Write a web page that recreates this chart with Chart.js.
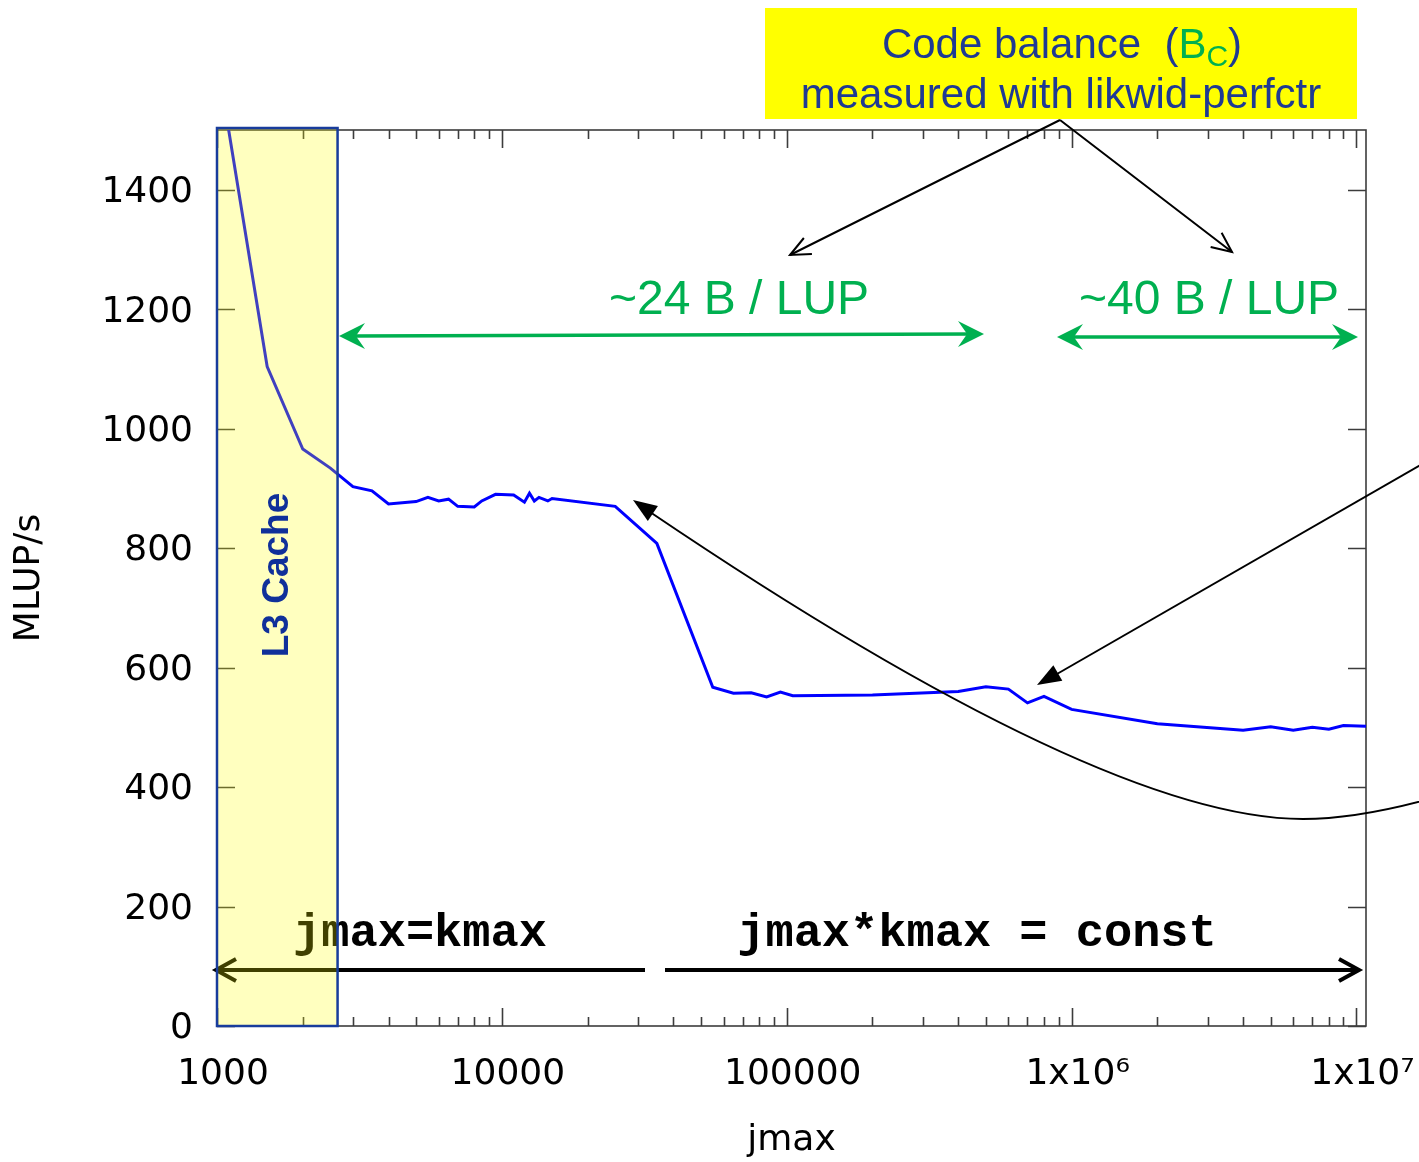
<!DOCTYPE html>
<html>
<head>
<meta charset="utf-8">
<script src="https://cdn.jsdelivr.net/npm/chart.js@4/dist/chart.umd.min.js"></script>
<style>
  html, body { margin: 0; padding: 0; background: #ffffff; }
  #wrap { width: 1419px; height: 1162px; position: relative; }
</style>
</head>
<body>
<div id="wrap"><canvas id="c" width="1419" height="1162"></canvas></div>
<script>
// Stencil performance vs. inner dimension jmax
const jmax = [1000, 1500, 2000, 2500, 3000, 3500, 4000, 5000, 5500, 6000, 6500, 7000,
  8000, 8500, 9500, 11000, 12000, 12500, 13000, 13500, 14500, 15000, 25000, 35000,
  55000, 65000, 75000, 85000, 95000, 105000, 200000, 400000, 500000, 600000, 700000,
  800000, 1000000, 2000000, 4000000, 5000000, 6000000, 7000000, 8000000, 9000000, 10800000];
const mlups = [1620, 1104, 966, 934, 903, 896, 874, 878, 885, 879, 882, 870,
  869, 879, 890, 889, 877, 892, 879, 885, 879, 883, 870, 808,
  567, 557, 558, 551, 559, 553, 554, 560, 568, 564, 541,
  552, 530, 506, 495, 501, 495, 500, 497, 503, 502];

const xTickValues = [1000, 10000, 100000, 1000000, 10000000];
const xTickLabels = ['1000', '10000', '100000', '1x10⁶', '1x10⁷'];
const yTickValues = [0, 200, 400, 600, 800, 1000, 1200, 1400];
const xRange = [1000, 10800000];
const yRange = [0, 1500];
const l3CacheLimit = 2650;   // jmax where the working set leaves the L3 cache

const AXIS_COLOR = '#3c3c3c';
const GREEN = '#00b050';
const NAVY = '#1f3a93';

function arrowHead(ctx, x, y, dx, dy, len, half, mode) {
  const a = Math.atan2(dy, dx);
  const bx = x - len * Math.cos(a), by = y - len * Math.sin(a);
  const px = -Math.sin(a) * half, py = Math.cos(a) * half;
  ctx.beginPath();
  if (mode === 'open') {
    ctx.moveTo(bx + px, by + py);
    ctx.lineTo(x, y);
    ctx.lineTo(bx - px, by - py);
    ctx.stroke();
  } else if (mode === 'notch') {
    const nx = x - len * 0.65 * Math.cos(a), ny = y - len * 0.65 * Math.sin(a);
    ctx.moveTo(x, y);
    ctx.lineTo(bx + px, by + py);
    ctx.lineTo(nx, ny);
    ctx.lineTo(bx - px, by - py);
    ctx.closePath();
    ctx.fill();
  } else {
    ctx.moveTo(x, y);
    ctx.lineTo(bx + px, by + py);
    ctx.lineTo(bx - px, by - py);
    ctx.closePath();
    ctx.fill();
  }
}

// Plot frame with gnuplot-style inward ticks on all four sides
const framePlugin = {
  id: 'frame',
  beforeDatasetsDraw(chart) {
    const { ctx, chartArea: a, scales: { x, y } } = chart;
    ctx.save();
    ctx.strokeStyle = AXIS_COLOR;
    ctx.lineWidth = 1.6;
    ctx.strokeRect(a.left, a.top, a.right - a.left, a.bottom - a.top);
    ctx.beginPath();
    for (let d = 1000; d <= xRange[1]; d *= 10) {
      for (let m = 1; m <= 9; m++) {
        const v = d * m;
        if (v < xRange[0] || v > xRange[1]) continue;
        const px = Math.round(x.getPixelForValue(v)) + 0.5;
        const len = m === 1 ? 18 : 9;
        ctx.moveTo(px, a.bottom); ctx.lineTo(px, a.bottom - len);
        ctx.moveTo(px, a.top); ctx.lineTo(px, a.top + len);
      }
    }
    yTickValues.forEach(v => {
      const py = Math.round(y.getPixelForValue(v)) + 0.5;
      ctx.moveTo(a.left, py); ctx.lineTo(a.left + 18, py);
      ctx.moveTo(a.right, py); ctx.lineTo(a.right - 18, py);
    });
    ctx.stroke();
    ctx.restore();
  }
};

// Callouts, ranges and the L3 cache band
const notesPlugin = {
  id: 'notes',
  afterDraw(chart) {
    const { ctx, chartArea: a, scales: { x } } = chart;
    ctx.save();

    // Code-balance ranges
    ctx.fillStyle = GREEN;
    ctx.strokeStyle = GREEN;
    ctx.font = '48px "Liberation Sans", Arial, sans-serif';
    ctx.textAlign = 'center';
    ctx.textBaseline = 'alphabetic';
    ctx.fillText('~24 B / LUP', 739, 314);
    ctx.fillText('~40 B / LUP', 1209, 314);
    ctx.lineWidth = 3.5;
    ctx.beginPath(); ctx.moveTo(352, 336); ctx.lineTo(972, 334); ctx.stroke();
    arrowHead(ctx, 339, 336, -1, 0, 26, 13, 'notch');
    arrowHead(ctx, 984, 334, 1, 0, 26, 13, 'notch');
    ctx.beginPath(); ctx.moveTo(1070, 337); ctx.lineTo(1345, 337); ctx.stroke();
    arrowHead(ctx, 1057, 337, -1, 0, 26, 13, 'notch');
    arrowHead(ctx, 1358, 337, 1, 0, 26, 13, 'notch');

    // Pointers from the label box
    ctx.strokeStyle = '#000';
    ctx.lineWidth = 2;
    ctx.beginPath();
    ctx.moveTo(1060, 120); ctx.lineTo(790, 255);
    ctx.moveTo(1060, 120); ctx.lineTo(1232, 252);
    ctx.stroke();
    arrowHead(ctx, 790, 255, -270, 135, 20, 9, 'open');
    arrowHead(ctx, 1232, 252, 172, 132, 20, 9, 'open');

    // Label box
    ctx.fillStyle = '#ffff00';
    ctx.fillRect(765, 8, 592, 111);
    ctx.textAlign = 'left';
    const bigFont = '42px "Liberation Sans", Arial, sans-serif';
    const subFont = '30px "Liberation Sans", Arial, sans-serif';
    ctx.font = bigFont;
    const p1 = 'Code balance  (', p2 = 'B', p4 = ')';
    const w1 = ctx.measureText(p1).width, w2 = ctx.measureText(p2).width, w4 = ctx.measureText(p4).width;
    ctx.font = subFont;
    const w3 = ctx.measureText('C').width;
    let tx = 1062 - (w1 + w2 + w3 + w4) / 2;
    ctx.font = bigFont;
    ctx.fillStyle = NAVY; ctx.fillText(p1, tx, 58); tx += w1;
    ctx.fillStyle = GREEN; ctx.fillText(p2, tx, 58); tx += w2;
    ctx.font = subFont; ctx.fillText('C', tx, 66); tx += w3;
    ctx.font = bigFont; ctx.fillStyle = NAVY; ctx.fillText(p4, tx, 58);
    ctx.textAlign = 'center';
    ctx.fillText('measured with likwid-perfctr', 1061, 108);

    // Curved pointer to the in-cache plateau
    ctx.strokeStyle = '#000';
    ctx.fillStyle = '#000';
    ctx.lineWidth = 2;
    ctx.beginPath();
    ctx.moveTo(1440, 796);
    ctx.quadraticCurveTo(1360, 819, 1303, 819);
    ctx.quadraticCurveTo(1104, 819, 650, 512);
    ctx.stroke();
    arrowHead(ctx, 633, 500, -471, -319, 24, 9, 'fill');

    // Straight pointer to the memory-bound plateau
    ctx.beginPath();
    ctx.moveTo(1445, 451); ctx.lineTo(1050, 678);
    ctx.stroke();
    arrowHead(ctx, 1037, 685, -403, 231, 24, 9, 'fill');

    // Problem-size regimes
    ctx.font = 'bold 47px "Liberation Mono", "Courier New", monospace';
    ctx.textAlign = 'center';
    ctx.fillText('jmax=kmax', 420, 946);
    ctx.fillText('jmax*kmax = const', 977, 946);
    ctx.lineWidth = 4;
    ctx.beginPath();
    ctx.moveTo(218, 970); ctx.lineTo(645, 970);
    ctx.moveTo(665, 970); ctx.lineTo(1357, 970);
    ctx.stroke();
    ctx.lineJoin = 'miter';
    arrowHead(ctx, 216, 970, -1, 0, 20, 11, 'open');
    arrowHead(ctx, 1359, 970, 1, 0, 20, 11, 'open');

    // L3 cache band
    const bx0 = x.getPixelForValue(xRange[0]);
    const bx1 = x.getPixelForValue(l3CacheLimit);
    ctx.fillStyle = 'rgba(255, 255, 0, 0.25)';
    ctx.fillRect(bx0, a.top - 2, bx1 - bx0, a.bottom - a.top + 2);
    ctx.strokeStyle = '#183c9c';
    ctx.lineWidth = 2.5;
    ctx.strokeRect(bx0, a.top - 2, bx1 - bx0, a.bottom - a.top + 2);
    ctx.translate((bx0 + bx1) / 2 + 1, 575);
    ctx.rotate(-Math.PI / 2);
    ctx.fillStyle = '#10309a';
    ctx.font = 'bold 37px "Liberation Sans", Arial, sans-serif';
    ctx.textAlign = 'center';
    ctx.textBaseline = 'middle';
    ctx.fillText('L3 Cache', 0, 0);
    ctx.restore();
  }
};

const tickFont = { family: '"DejaVu Sans", sans-serif', size: 36 };

new Chart(document.getElementById('c').getContext('2d'), {
  type: 'line',
  data: {
    datasets: [{
      data: jmax.map((v, i) => ({ x: v, y: mlups[i] })),
      borderColor: '#0000ff',
      borderWidth: 3,
      pointRadius: 0,
      tension: 0,
      fill: false
    }]
  },
  options: {
    responsive: false,
    animation: false,
    devicePixelRatio: 1,
    layout: { padding: { top: 130, right: 53, left: 0, bottom: 0 }, autoPadding: false },
    plugins: { legend: { display: false }, tooltip: { enabled: false } },
    scales: {
      x: {
        type: 'logarithmic',
        min: xRange[0],
        max: xRange[1],
        grid: { display: false, drawTicks: false },
        border: { display: false },
        afterBuildTicks: s => { s.ticks = xTickValues.map(v => ({ value: v })); },
        afterFit: s => { s.height = 136; s.paddingLeft = 0; s.paddingRight = 0; },
        ticks: {
          autoSkip: false, maxRotation: 0, minRotation: 0,
          padding: 27, labelOffset: 6,
          font: tickFont, color: '#000',
          callback: (v, i) => xTickLabels[i]
        },
        title: { display: true, text: 'jmax', font: tickFont, color: '#000', padding: 0 }
      },
      y: {
        min: yRange[0],
        max: yRange[1],
        grid: { display: false, drawTicks: false },
        border: { display: false },
        afterBuildTicks: s => { s.ticks = yTickValues.map(v => ({ value: v })); },
        afterFit: s => { s.width = 217; s.paddingTop = 0; s.paddingBottom = 0; },
        ticks: { padding: 24, labelOffset: 3, font: tickFont, color: '#000', callback: v => String(v) },
        title: { display: true, text: 'MLUP/s', font: tickFont, color: '#000', padding: { top: 8, bottom: 0 } }
      }
    }
  },
  plugins: [framePlugin, notesPlugin]
});
</script>
</body>
</html>
